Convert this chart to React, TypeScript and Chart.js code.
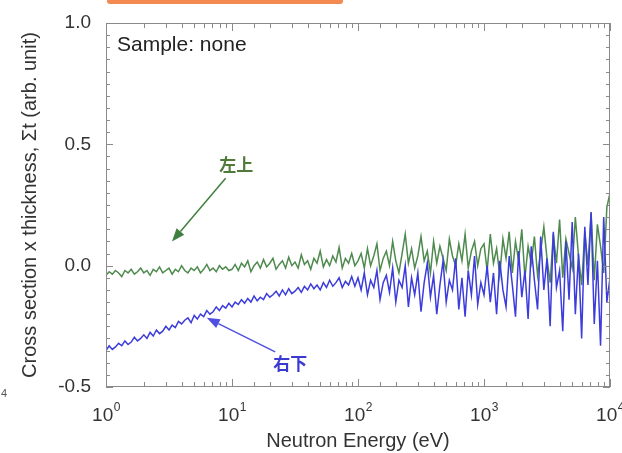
import React, { useEffect, useRef } from 'react';
import { Chart, registerables } from 'chart.js';
Chart.register(...registerables);

// Neutron energies (eV), 40 per decade
const energies = [
  1.0, 1.059, 1.122, 1.189, 1.259, 1.334, 1.413, 1.496, 1.585, 1.679,
  1.778, 1.884, 1.995, 2.113, 2.239, 2.371, 2.512, 2.661, 2.818, 2.985,
  3.162, 3.35, 3.548, 3.758, 3.981, 4.217, 4.467, 4.732, 5.012, 5.309,
  5.623, 5.957, 6.31, 6.683, 7.079, 7.499, 7.943, 8.414, 8.913, 9.441,
  10.0, 10.59, 11.22, 11.89, 12.59, 13.34, 14.13, 14.96, 15.85, 16.79,
  17.78, 18.84, 19.95, 21.13, 22.39, 23.71, 25.12, 26.61, 28.18, 29.85,
  31.62, 33.5, 35.48, 37.58, 39.81, 42.17, 44.67, 47.32, 50.12, 53.09,
  56.23, 59.57, 63.1, 66.83, 70.79, 74.99, 79.43, 84.14, 89.13, 94.41,
  100, 105.9, 112.2, 118.9, 125.9, 133.4, 141.3, 149.6, 158.5, 167.9,
  177.8, 188.4, 199.5, 211.3, 223.9, 237.1, 251.2, 266.1, 281.8, 298.5,
  316.2, 335, 354.8, 375.8, 398.1, 421.7, 446.7, 473.2, 501.2, 530.9,
  562.3, 595.7, 631, 668.3, 707.9, 749.9, 794.3, 841.4, 891.3, 944.1,
  1000, 1059, 1122, 1189, 1259, 1334, 1413, 1496, 1585, 1679,
  1778, 1884, 1995, 2113, 2239, 2371, 2512, 2661, 2818, 2985,
  3162, 3350, 3548, 3758, 3981, 4217, 4467, 4732, 5012, 5309,
  5623, 5957, 6310, 6683, 7079, 7499, 7943, 8414, 8913, 9441,
  10000,
];

// 左上 (green)
const upperLeftValues = [
  -0.04, -0.025, -0.035, -0.02, -0.03, -0.045, -0.02, -0.03, -0.015, -0.035,
  -0.025, -0.01, -0.03, -0.02, -0.04, -0.015, -0.025, -0.005, -0.03, -0.02,
  -0.01, -0.035, -0.015, -0.025, 0.0, -0.02, -0.03, -0.01, -0.02, -0.005,
  -0.03, -0.015, 0.005, -0.02, -0.01, -0.025, 0.0, -0.015, -0.005, -0.02,
  -0.015, 0.005, -0.02, 0.01, -0.005, 0.02, -0.025, 0.0, 0.015, -0.01,
  0.025, -0.005, 0.01, 0.03, -0.015, 0.005, 0.02, -0.01, 0.035, 0.0,
  0.015, -0.01, 0.045, 0.005, 0.02, -0.015, 0.03, 0.01, 0.06, -0.005,
  0.025, 0.0, 0.04, 0.015, 0.075, -0.01, 0.03, 0.01, 0.05, 0.0,
  0.02, 0.05, -0.01, 0.07, 0.0, 0.04, 0.09, -0.02, 0.03, 0.06,
  0.0, 0.1, 0.02, -0.03, 0.05, 0.13, 0.01, 0.07, -0.01, 0.04,
  0.12, 0.02, 0.06, -0.03, 0.1, 0.01, 0.08, 0.03, -0.02, 0.11,
  0.04, 0.0, 0.09, 0.02, 0.13, -0.01, 0.06, 0.1, 0.0, 0.07,
  0.09, -0.02, 0.13, 0.01, 0.07, -0.04, 0.11, 0.03, 0.14, -0.03,
  0.1, 0.02, 0.15, -0.05, 0.08, 0.01, 0.12, -0.04, 0.06, 0.16,
  0.03, -0.07, 0.13, 0.01, 0.19, -0.05, 0.11, 0.05, -0.01, 0.2,
  0.04, -0.08, 0.14, 0.0, 0.22, -0.06, 0.17, 0.08, -0.03, 0.24,
  0.3,
];

// 右下 (blue)
const lowerRightValues = [
  -0.35, -0.33, -0.345, -0.335, -0.32, -0.33, -0.31, -0.325, -0.315, -0.295,
  -0.31, -0.3, -0.285, -0.3, -0.275, -0.29, -0.265, -0.28, -0.27, -0.25,
  -0.265, -0.245, -0.255, -0.23, -0.24, -0.225, -0.215, -0.235, -0.205, -0.22,
  -0.2, -0.21, -0.185, -0.2, -0.19, -0.17, -0.185, -0.165, -0.175, -0.155,
  -0.17, -0.15, -0.16, -0.14, -0.155, -0.135, -0.15, -0.125, -0.145, -0.13,
  -0.14, -0.115, -0.13, -0.12, -0.105, -0.125, -0.1, -0.12, -0.095, -0.115,
  -0.105, -0.09, -0.11, -0.085, -0.1, -0.075, -0.095, -0.08, -0.1, -0.07,
  -0.09, -0.06, -0.085, -0.07, -0.05, -0.09, -0.065, -0.08, -0.045, -0.085,
  -0.05, -0.1, -0.03, -0.12, -0.06, -0.09, -0.02, -0.14, -0.07, -0.04,
  -0.11, -0.01, -0.15, -0.06, -0.09, 0.0, -0.17, -0.05, -0.12, -0.03,
  -0.19, -0.07, 0.01, -0.13, -0.04, -0.2, -0.08, 0.02, -0.15, -0.06,
  -0.1, 0.03, -0.18, -0.05, -0.21, -0.02, -0.12, 0.04, -0.16, -0.07,
  -0.12, 0.0, -0.15, -0.03, -0.2, 0.02, -0.1, -0.17, 0.04, -0.08,
  -0.21, 0.06, -0.13, -0.02, -0.22, 0.08, -0.06, -0.18, 0.12, -0.1,
  0.03, -0.25, 0.14, -0.09, -0.02, -0.27, 0.1, -0.14, 0.18, -0.2,
  0.05, -0.3, 0.16, -0.08, 0.22, -0.24, 0.02, -0.33, 0.2, -0.15,
  -0.05,
];

const xDecades = [1, 10, 100, 1000, 10000];
const xExponents = ['0', '1', '2', '3', '4'];

const FONT = '"Liberation Sans", Arial, sans-serif';
const CJK = '"Noto Sans CJK JP", "Noto Sans CJK SC", sans-serif';
const TEXT = '#333333';
const AXIS = '#8a8a8a';
const GREEN = '#4e8a4e';
const BLUE = '#3c3cdc';

function arrow(ctx: CanvasRenderingContext2D, x1: number, y1: number, x2: number, y2: number, color: string) {
  const ang = Math.atan2(y2 - y1, x2 - x1);
  const len = 13, half = 5;
  const bx = x2 - len * Math.cos(ang), by = y2 - len * Math.sin(ang);
  ctx.save();
  ctx.strokeStyle = color;
  ctx.fillStyle = color;
  ctx.lineWidth = 1.5;
  ctx.beginPath();
  ctx.moveTo(x1, y1);
  ctx.lineTo(bx, by);
  ctx.stroke();
  ctx.beginPath();
  ctx.moveTo(x2, y2);
  ctx.lineTo(bx + half * Math.sin(ang), by - half * Math.cos(ang));
  ctx.lineTo(bx - half * Math.sin(ang), by + half * Math.cos(ang));
  ctx.closePath();
  ctx.fill();
  ctx.restore();
}

const framePlugin = {
  id: 'frame',
  afterDraw(chart: any) {
    const ctx: CanvasRenderingContext2D = chart.ctx;
    const { left, right, top, bottom } = chart.chartArea;
    const xs = chart.scales.x;
    const ys = chart.scales.y;
    ctx.save();
    ctx.strokeStyle = AXIS;
    ctx.lineWidth = 1;
    ctx.strokeRect(left + 0.5, top + 0.5, right - left - 1, bottom - top - 1);
    ys.ticks.forEach((t: any) => {
      const py = Math.round(ys.getPixelForValue(t.value)) + 0.5;
      const major = Math.abs(t.value * 2 - Math.round(t.value * 2)) < 1e-6;
      const l = major ? 7 : 4;
      ctx.beginPath();
      ctx.moveTo(left, py); ctx.lineTo(left + l, py);
      ctx.moveTo(right, py); ctx.lineTo(right - l, py);
      ctx.stroke();
    });
    xs.ticks.forEach((t: any) => {
      const px = Math.round(xs.getPixelForValue(t.value)) + 0.5;
      const lg = Math.log10(t.value);
      const major = Math.abs(lg - Math.round(lg)) < 1e-6;
      const l = major ? 8 : 5;
      ctx.beginPath();
      ctx.moveTo(px, bottom); ctx.lineTo(px, bottom - l);
      ctx.moveTo(px, top); ctx.lineTo(px, top + l);
      ctx.stroke();
    });
    ctx.fillStyle = TEXT;
    ctx.textBaseline = 'alphabetic';
    xDecades.forEach((v, i) => {
      const px = xs.getPixelForValue(v);
      ctx.font = `19px ${FONT}`;
      const w1 = ctx.measureText('10').width;
      ctx.font = `12px ${FONT}`;
      const w2 = ctx.measureText(xExponents[i]).width;
      const x0 = px - (w1 + w2) / 2;
      ctx.font = `19px ${FONT}`;
      ctx.textAlign = 'left';
      ctx.fillText('10', x0, 421);
      ctx.font = `12px ${FONT}`;
      ctx.fillText(xExponents[i], x0 + w1 + 0.5, 411);
    });
    ctx.font = `21px ${FONT}`;
    ctx.textAlign = 'left';
    ctx.textBaseline = 'middle';
    ctx.fillStyle = '#222222';
    ctx.fillText('Sample: none', left + 11, top + 22);
    ctx.font = `bold 17px ${CJK}`;
    ctx.textAlign = 'center';
    ctx.fillStyle = '#4f7a3a';
    ctx.fillText('左上', xs.getPixelForValue(10.8), ys.getPixelForValue(0.416));
    arrow(ctx, xs.getPixelForValue(8.9), ys.getPixelForValue(0.36), xs.getPixelForValue(3.34), ys.getPixelForValue(0.1), '#3f7f3f');
    ctx.fillStyle = '#3a3ad0';
    ctx.fillText('右下', xs.getPixelForValue(29), ys.getPixelForValue(-0.405));
    arrow(ctx, xs.getPixelForValue(22), ys.getPixelForValue(-0.355), xs.getPixelForValue(6.3), ys.getPixelForValue(-0.215), '#5050e0');
    ctx.fillStyle = '#f28a52';
    ctx.beginPath();
    (ctx as any).roundRect(107, -6, 236, 10, 3);
    ctx.fill();
    ctx.font = `11px ${FONT}`;
    ctx.textAlign = 'left';
    ctx.textBaseline = 'alphabetic';
    ctx.fillStyle = '#555555';
    ctx.fillText('4', 1, 397);
    ctx.restore();
  },
};

export default function App() {
  const ref = useRef<HTMLCanvasElement>(null);
  useEffect(() => {
    if (!ref.current) return;
    const chart = new Chart(ref.current, {
      type: 'line',
      data: {
        datasets: [
          {
            label: '右下',
            data: energies.map((e, i) => ({ x: e, y: lowerRightValues[i] })),
            borderColor: BLUE,
            borderWidth: 1.5,
            pointRadius: 0,
            tension: 0,
          },
          {
            label: '左上',
            data: energies.map((e, i) => ({ x: e, y: upperLeftValues[i] })),
            borderColor: GREEN,
            borderWidth: 1.5,
            pointRadius: 0,
            tension: 0,
          },
        ],
      },
      options: {
        animation: false,
        responsive: true,
        maintainAspectRatio: false,
        layout: { padding: { left: 0, right: 12, top: 23, bottom: 0 } },
        plugins: { legend: { display: false }, tooltip: { enabled: false } },
        scales: {
          x: {
            type: 'logarithmic',
            min: 1,
            max: 10000,
            grid: { display: false },
            border: { display: false },
            ticks: { display: false },
            title: {
              display: true,
              text: 'Neutron Energy (eV)',
              color: TEXT,
              font: { family: FONT, size: 20 },
              padding: { top: 1, bottom: 0 },
            },
            afterFit: (s: any) => { s.height = 66; },
          },
          y: {
            type: 'linear',
            min: -0.5,
            max: 1.0,
            grid: { display: false },
            border: { display: false },
            ticks: {
              stepSize: 0.05,
              autoSkip: false,
              padding: 7,
              color: TEXT,
              font: { family: FONT, size: 19 },
              callback: (v: any) => {
                const n = Number(v);
                if (Math.abs(n * 2 - Math.round(n * 2)) > 1e-6) return '';
                if (Math.abs(n) < 1e-9) return '0.0';
                return n.toFixed(1);
              },
            },
            title: {
              display: true,
              text: 'Cross section x thickness, Σt (arb. unit)',
              color: TEXT,
              font: { family: FONT, size: 20 },
              padding: { top: 18, bottom: 0 },
            },
            afterFit: (s: any) => { s.width = 106; },
          },
        },
      },
      plugins: [framePlugin],
    });
    return () => chart.destroy();
  }, []);
  return (
    <div style={{ position: 'absolute', left: 0, top: 0, width: 622, height: 453 }}>
      <canvas ref={ref} />
    </div>
  );
}
